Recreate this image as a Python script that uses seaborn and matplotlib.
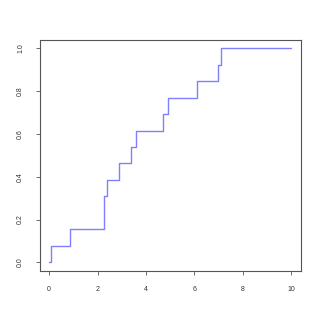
import numpy as np
import pandas as pd
import matplotlib
matplotlib.use("Agg")
import matplotlib.pyplot as plt
import seaborn as sns

# Data: sorted sample values (ECDF), plus domain bounds
values = [0.07, 0.87, 2.26, 2.26, 2.39, 2.87, 3.37, 3.57, 4.70, 4.90, 6.09, 6.98, 7.10]
x_min, x_max = 0, 10
x_ticks = [0, 2, 4, 6, 8, 10]
y_ticks = [0.0, 0.2, 0.4, 0.6, 0.8, 1.0]
y_tick_labels = ["0.0", "0.2", "0.4", "0.6", "0.8", "1.0"]

n = len(values)
xs = [x_min] + sorted(values) + [x_max]
ys = [0.0] + [(i + 1) / n for i in range(n)] + [1.0]
df = pd.DataFrame({"x": xs, "y": ys, "order": range(len(xs))})

sns.set_style("white")
plt.rcParams['font.family'] = ['Liberation Sans', 'DejaVu Sans']

fig = plt.figure(figsize=(3.21, 3.21), dpi=100)
ax = fig.add_axes([39.5 / 321, 1 - 271 / 321, (301 - 39.5) / 321, (271 - 39.5) / 321])

sns.lineplot(data=df, x="x", y="y", estimator=None, sort=False,
             drawstyle="steps-post", color="blue", alpha=0.5, linewidth=1.0, ax=ax)

ax.set_xlim(-0.4, 10.4)
ax.set_ylim(-0.04, 1.04)
ax.set_xticks(x_ticks)
ax.set_xticklabels([str(t) for t in x_ticks])
ax.set_yticks(y_ticks)
ax.set_yticklabels(y_tick_labels, rotation=90, va="center")
ax.set_xlabel("")
ax.set_ylabel("")

for s in ax.spines.values():
    s.set_color("#555555")
    s.set_linewidth(0.8)

ax.tick_params(axis="both", direction="out", length=3, width=0.6, color="#555555",
               labelsize=5, labelcolor="#333333", bottom=True, left=True)
ax.tick_params(axis="x", pad=8)
ax.tick_params(axis="y", pad=8)

fig.savefig("out.png", dpi=100)
